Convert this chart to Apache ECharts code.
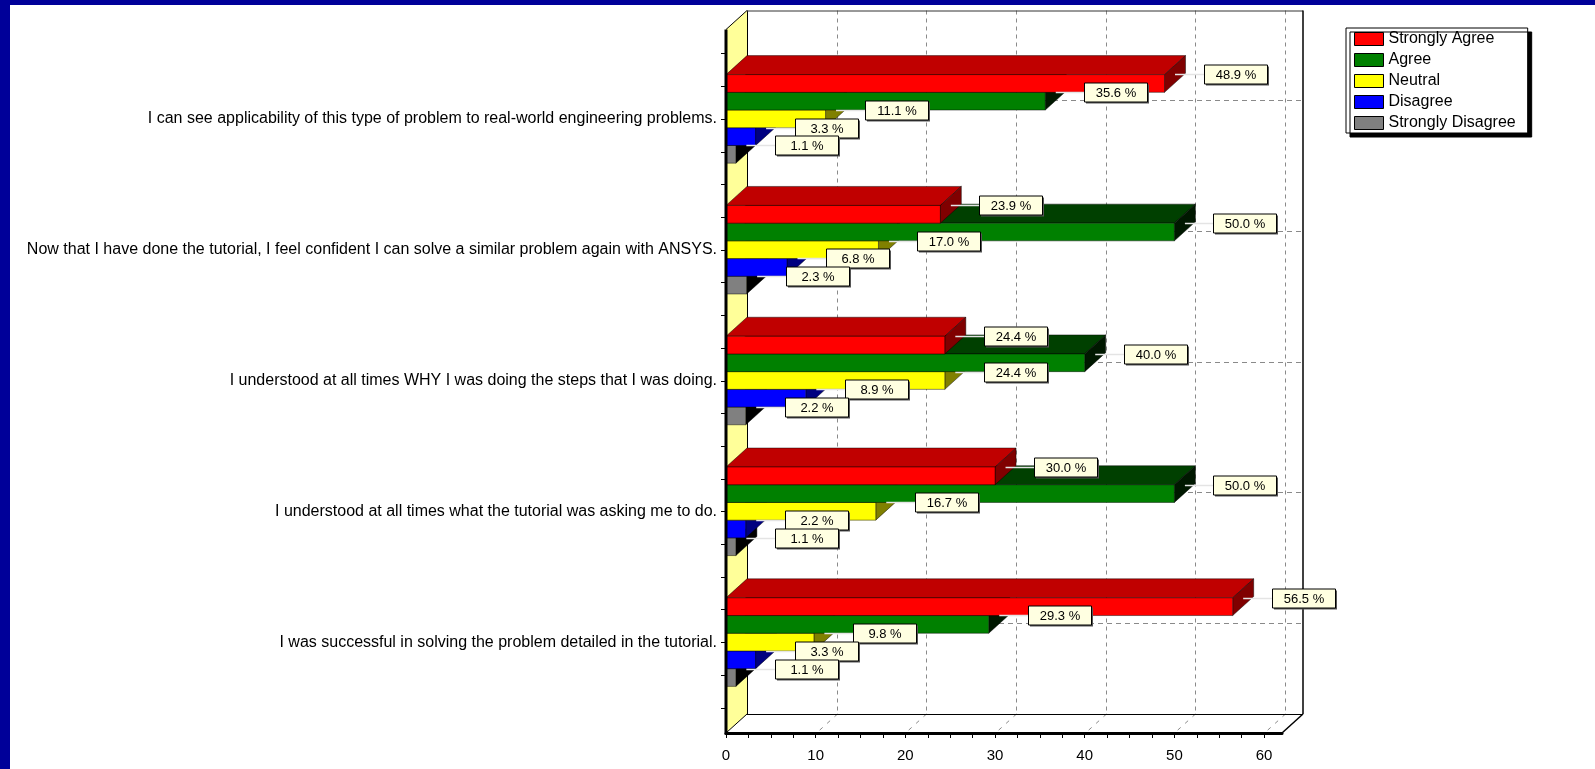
<!DOCTYPE html>
<html>
<head>
<meta charset="utf-8">
<title>Tutorial survey responses</title>
<script src="https://cdn.jsdelivr.net/npm/echarts@6/dist/echarts.min.js"></script>
<style>
  html, body { margin: 0; padding: 0; background: #ffffff; }
  #chart { width: 1595px; height: 769px; }
</style>
</head>
<body>
<div id="chart"></div>
<script>
// ---- data ----
const categories = [
  'I can see applicability of this type of problem to real-world engineering problems.',
  'Now that I have done the tutorial, I feel confident I can solve a similar problem again with ANSYS.',
  'I understood at all times WHY I was doing the steps that I was doing.',
  'I understood at all times what the tutorial was asking me to do.',
  'I was successful in solving the problem detailed in the tutorial.'
];
const seriesNames = ['Strongly Agree', 'Agree', 'Neutral', 'Disagree', 'Strongly Disagree'];
const stronglyAgree    = [48.9, 23.9, 24.4, 30.0, 56.5];
const agree            = [35.6, 50.0, 40.0, 50.0, 29.3];
const neutral          = [11.1, 17.0, 24.4, 16.7,  9.8];
const disagree         = [ 3.3,  6.8,  8.9,  2.2,  3.3];
const stronglyDisagree = [ 1.1,  2.3,  2.2,  1.1,  1.1];
const seriesValues = [stronglyAgree, agree, neutral, disagree, stronglyDisagree];

const xTickLabels = [0, 10, 20, 30, 40, 50, 60];
const xTickMarks = [0, 2.5, 5, 7.5, 10, 12.5, 15, 17.5, 20, 22.5, 25, 27.5, 30,
                    32.5, 35, 37.5, 40, 42.5, 45, 47.5, 50, 52.5, 55, 57.5, 60];
const xMax = 62;

// ---- style ----
const FONT = '"Liberation Sans", Arial, sans-serif';
const palettes = [
  { front: '#ff0000', top: '#c00000', side: '#800000' },
  { front: '#008000', top: '#004000', side: '#001800' },
  { front: '#ffff00', top: '#c0c000', side: '#808000' },
  { front: '#0000ff', top: '#0000c0', side: '#000080' },
  { front: '#808080', top: '#606060', side: '#000000' }
];
const DX = 21, DY = -19;          // depth offset of the 3D box
const PAD_TOP = 24, PAD_BOTTOM = 25.5;
const BAR_FILL = 0.677;           // share of a category band taken by the bar group
const LABEL_GAP = 39, LABEL_DY = -9, LABEL_W = 63, LABEL_H = 19;
const GRID_COLOR = '#8a8a8a';

function frameRenderer(params, api) {
  const n = categories.length;
  const first = api.coord([0, 0]);
  const band = api.size([0, 1])[1];
  const xL = first[0];
  const xR = api.coord([xMax, 0])[0];
  const gridTop = first[1] - band / 2;
  const gridBot = gridTop + band * n;
  const yT = gridTop - PAD_TOP;
  const yB = gridBot + PAD_BOTTOM;
  const kids = [];
  // back wall
  kids.push({ type: 'rect', shape: { x: xL + DX, y: yT + DY, width: xR - xL, height: yB - yT },
    style: { fill: '#ffffff' }, z2: 0 });
  // side wall
  kids.push({ type: 'polygon', shape: { points: [[xL, yT], [xL + DX, yT + DY], [xL + DX, yB + DY], [xL, yB]] },
    style: { fill: '#ffff99' }, z2: 0 });
  // floor
  kids.push({ type: 'polygon', shape: { points: [[xL, yB], [xL + DX, yB + DY], [xR + DX, yB + DY], [xR, yB]] },
    style: { fill: '#ffffff' }, z2: 0 });
  // value grid lines on the back wall and across the floor
  xTickLabels.forEach(function (v) {
    if (v === 0) return;
    const x = Math.round(api.coord([v, 0])[0] + DX) + 0.5;
    kids.push({ type: 'line', shape: { x1: x, y1: yT + DY, x2: x, y2: yB + DY },
      style: { stroke: GRID_COLOR, lineWidth: 1, lineDash: [4, 4] }, z2: 1 });
    kids.push({ type: 'line', shape: { x1: x, y1: yB + DY, x2: x - DX, y2: yB },
      style: { stroke: GRID_COLOR, lineWidth: 1, lineDash: [4, 6] }, z2: 1 });
  });
  // category grid lines on the back wall
  categories.forEach(function (c, i) {
    const y = Math.round(api.coord([0, i])[1] + DY) + 0.5;
    kids.push({ type: 'line', shape: { x1: xL + DX, y1: y, x2: xR + DX, y2: y },
      style: { stroke: GRID_COLOR, lineWidth: 1, lineDash: [5, 4] }, z2: 1 });
  });
  const edge = function (x1, y1, x2, y2, w, c) {
    kids.push({ type: 'line', shape: { x1: x1, y1: y1, x2: x2, y2: y2 },
      style: { stroke: c || '#000', lineWidth: w }, z2: 2 });
  };
  edge(xL + DX + 0.5, yT + DY, xL + DX + 0.5, yB + DY, 1);
  edge(xL + DX, yT + DY + 0.5, xR + DX, yT + DY + 0.5, 1, '#333');
  edge(xR + DX, yT + DY, xR + DX, yB + DY, 1.5);
  edge(xL + DX, yB + DY + 0.5, xR + DX, yB + DY + 0.5, 1);
  edge(xR + DX, yB + DY, xR, yB, 1.5);
  edge(xL, yT, xL + DX, yT + DY, 1);
  edge(xL, yB, xL + DX, yB + DY, 1);
  // front value-axis spine and quarter-band ticks
  kids.push({ type: 'line', shape: { x1: xL, y1: yT, x2: xL, y2: yB + 1.5 },
    style: { stroke: '#000', lineWidth: 3 }, z2: 150 });
  for (let k = 0; k <= n * 4; k++) {
    const y = Math.round(gridTop + k * band / 4) + 0.5;
    kids.push({ type: 'line', shape: { x1: xL - 5, y1: y, x2: xL, y2: y },
      style: { stroke: '#000', lineWidth: 1 }, z2: 150 });
  }
  return { type: 'group', children: kids };
}

function barRenderer(si) {
  const pal = palettes[si];
  const count = seriesNames.length;
  return function (params, api) {
    const val = api.value(0);
    const cat = api.value(1);
    const start = api.coord([0, cat]);
    const end = api.coord([val, cat]);
    const band = api.size([0, 1])[1];
    const barH = band * BAR_FILL / count;
    const top = start[1] - band * BAR_FILL / 2 + si * barH;
    const bot = top + barH;
    const x0 = start[0], x1 = end[0];
    const z = 10 + (count - 1 - si) * 4;
    const edgeCol = 'rgba(0,0,0,0.45)';
    const kids = [
      { type: 'polygon', shape: { points: [[x0, top], [x1, top], [x1 + DX, top + DY], [x0 + DX, top + DY]] },
        style: { fill: pal.top, stroke: edgeCol, lineWidth: 1 }, z2: z },
      { type: 'polygon', shape: { points: [[x1, top], [x1, bot], [x1 + DX, bot + DY], [x1 + DX, top + DY]] },
        style: { fill: pal.side, stroke: edgeCol, lineWidth: 1 }, z2: z + 1 },
      { type: 'rect', shape: { x: x0, y: top, width: x1 - x0, height: barH },
        style: { fill: pal.front, stroke: edgeCol, lineWidth: 1 }, z2: z + 2 }
    ];
    // value callout
    const yc = Math.round((top + bot) / 2 + LABEL_DY);
    const lx = Math.round(x1 + LABEL_GAP);
    const lz = 200 + si * 5;
    kids.push(
      { type: 'line', shape: { x1: x1 + DX / 2, y1: yc + 0.5, x2: lx, y2: yc + 0.5 },
        style: { stroke: '#e4e4e4', lineWidth: 1.5 }, z2: lz },
      { type: 'rect', shape: { x: lx + 2, y: yc - LABEL_H / 2 + 2, width: LABEL_W, height: LABEL_H },
        style: { fill: '#555555' }, z2: lz + 1 },
      { type: 'rect', shape: { x: lx + 0.5, y: yc - LABEL_H / 2 + 0.5, width: LABEL_W, height: LABEL_H },
        style: { fill: '#ffffe1', stroke: '#000', lineWidth: 1 }, z2: lz + 2 },
      { type: 'text', style: { text: val.toFixed(1) + ' %', x: lx + LABEL_W / 2 + 0.5, y: yc + 1,
        align: 'center', verticalAlign: 'middle', fill: '#000', font: '13px ' + FONT }, z2: lz + 3 }
    );
    return { type: 'group', children: kids };
  };
}

const series = [{
  name: 'frame',
  type: 'custom',
  renderItem: frameRenderer,
  data: [[0, 0]],
  encode: { x: 0, y: 1 },
  clip: false,
  silent: true,
  z: 2
}];
seriesNames.forEach(function (name, si) {
  series.push({
    name: name,
    type: 'custom',
    renderItem: barRenderer(si),
    data: seriesValues[si].map(function (v, ci) { return [v, ci]; }),
    encode: { x: 0, y: 1 },
    itemStyle: { color: palettes[si].front },
    clip: false,
    z: 2
  });
});

const chart = echarts.init(document.getElementById('chart'), null, { renderer: 'canvas' });
chart.setOption({
  animation: false,
  backgroundColor: '#ffffff',
  textStyle: { fontFamily: FONT },
  grid: { left: 726, right: 313, top: 53.5, bottom: 61.5, containLabel: false },
  xAxis: {
    type: 'value', min: 0, max: xMax, interval: 10,
    position: 'bottom', offset: PAD_BOTTOM, z: 5,
    axisLine: { show: true, lineStyle: { color: '#000', width: 3 } },
    axisTick: { show: true, customValues: xTickMarks, length: 5, lineStyle: { color: '#000', width: 1 } },
    axisLabel: { customValues: xTickLabels, margin: 15, fontSize: 15, color: '#000', fontFamily: FONT },
    splitLine: { show: false }
  },
  yAxis: {
    type: 'category', data: categories, inverse: true, z: 5,
    axisLine: { show: false },
    axisTick: { show: false },
    axisLabel: { margin: 9, fontSize: 16, color: '#000', fontFamily: FONT },
    splitLine: { show: false }
  },
  legend: {
    orient: 'vertical', left: 1346, top: 28,
    data: seriesNames.map(function (n) { return { name: n, icon: 'rect' }; }),
    itemWidth: 29, itemHeight: 13, itemGap: 5,
    padding: [3, 12, 2, 8],
    backgroundColor: '#ffffff', borderColor: '#000', borderWidth: 1,
    shadowColor: '#000', shadowBlur: 0, shadowOffsetX: 4, shadowOffsetY: 4,
    itemStyle: { borderColor: '#000', borderWidth: 1 },
    textStyle: { fontSize: 16, color: '#000', fontFamily: FONT, lineHeight: 16 },
    selectedMode: false
  },
  graphic: [
    { type: 'rect', left: 0, top: 0, shape: { width: 1595, height: 5 }, style: { fill: '#000099' }, silent: true },
    { type: 'rect', left: 0, top: 0, shape: { width: 10, height: 769 }, style: { fill: '#000099' }, silent: true }
  ],
  series: series
});
</script>
</body>
</html>
